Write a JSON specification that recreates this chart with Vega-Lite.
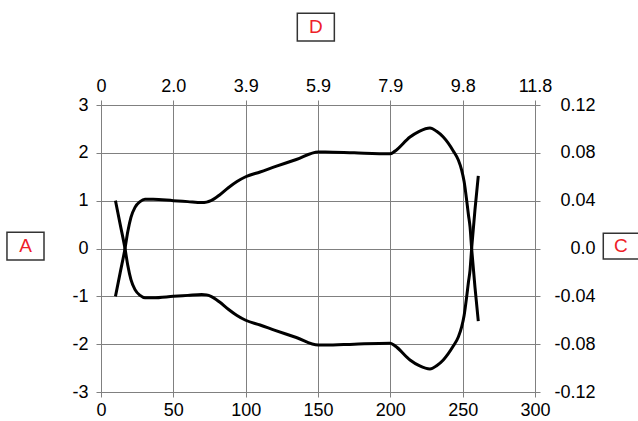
{
  "$schema": "https://vega.github.io/schema/vega-lite/v6.json",
  "width": 434,
  "height": 287,
  "autosize": {"type": "none"},
  "padding": {"left": 101, "top": 105, "right": 103, "bottom": 29},
  "background": "white",
  "config": {
    "font": "Liberation Sans",
    "view": {"stroke": null},
    "axis": {
      "gridColor": "#808080",
      "gridOpacity": 1,
      "gridWidth": 1,
      "domainColor": "#808080",
      "domainWidth": 1,
      "tickColor": "#808080",
      "tickSize": 5,
      "labelFontSize": 18,
      "labelColor": "black",
      "labelFont": "Liberation Sans",
      "labelFlush": false,
      "labelOverlap": false,
      "title": null
    }
  },
  "data": {
    "values": [
      {"arc": "u", "x": 10, "y": -1},
      {"arc": "u", "x": 13.3, "y": -0.5},
      {"arc": "u", "x": 16.6, "y": 0},
      {"arc": "u", "x": 18.5, "y": 0.35},
      {"arc": "u", "x": 20.7, "y": 0.65},
      {"arc": "u", "x": 23.5, "y": 0.86},
      {"arc": "u", "x": 27, "y": 0.98},
      {"arc": "u", "x": 30.4, "y": 1.03},
      {"arc": "u", "x": 36, "y": 1.03},
      {"arc": "u", "x": 50, "y": 1.0},
      {"arc": "u", "x": 60, "y": 0.98},
      {"arc": "u", "x": 69.6, "y": 0.96},
      {"arc": "u", "x": 73, "y": 0.97},
      {"arc": "u", "x": 76, "y": 1.0},
      {"arc": "u", "x": 82, "y": 1.12},
      {"arc": "u", "x": 88, "y": 1.27},
      {"arc": "u", "x": 94, "y": 1.4},
      {"arc": "u", "x": 100, "y": 1.5},
      {"arc": "u", "x": 110, "y": 1.6},
      {"arc": "u", "x": 120.3, "y": 1.71},
      {"arc": "u", "x": 135, "y": 1.86},
      {"arc": "u", "x": 150.2, "y": 2.02},
      {"arc": "u", "x": 155, "y": 2.02},
      {"arc": "u", "x": 175, "y": 2.0},
      {"arc": "u", "x": 199.8, "y": 1.98},
      {"arc": "u", "x": 203, "y": 2.03},
      {"arc": "u", "x": 213.6, "y": 2.33},
      {"arc": "u", "x": 220, "y": 2.45},
      {"arc": "u", "x": 227.4, "y": 2.52},
      {"arc": "u", "x": 232, "y": 2.45},
      {"arc": "u", "x": 236.6, "y": 2.33},
      {"arc": "u", "x": 243.5, "y": 2.04},
      {"arc": "u", "x": 247, "y": 1.85},
      {"arc": "u", "x": 249.3, "y": 1.64},
      {"arc": "u", "x": 251, "y": 1.4},
      {"arc": "u", "x": 252.8, "y": 1.0},
      {"arc": "u", "x": 254, "y": 0.7},
      {"arc": "u", "x": 255.1, "y": 0.45},
      {"arc": "u", "x": 256.2, "y": 0},
      {"arc": "u", "x": 258.5, "y": -0.81},
      {"arc": "u", "x": 260.8, "y": -1.52},
      {"arc": "l", "x": 10, "y": 1},
      {"arc": "l", "x": 13.3, "y": 0.5},
      {"arc": "l", "x": 16.6, "y": 0},
      {"arc": "l", "x": 18.5, "y": -0.35},
      {"arc": "l", "x": 20.7, "y": -0.65},
      {"arc": "l", "x": 23.5, "y": -0.86},
      {"arc": "l", "x": 27, "y": -0.98},
      {"arc": "l", "x": 30.4, "y": -1.03},
      {"arc": "l", "x": 36, "y": -1.03},
      {"arc": "l", "x": 50, "y": -1.0},
      {"arc": "l", "x": 60, "y": -0.98},
      {"arc": "l", "x": 69.6, "y": -0.96},
      {"arc": "l", "x": 73, "y": -0.97},
      {"arc": "l", "x": 76, "y": -1.0},
      {"arc": "l", "x": 82, "y": -1.12},
      {"arc": "l", "x": 88, "y": -1.27},
      {"arc": "l", "x": 94, "y": -1.4},
      {"arc": "l", "x": 100, "y": -1.5},
      {"arc": "l", "x": 110, "y": -1.6},
      {"arc": "l", "x": 120.3, "y": -1.71},
      {"arc": "l", "x": 135, "y": -1.86},
      {"arc": "l", "x": 150.2, "y": -2.02},
      {"arc": "l", "x": 155, "y": -2.02},
      {"arc": "l", "x": 175, "y": -2.0},
      {"arc": "l", "x": 199.8, "y": -1.98},
      {"arc": "l", "x": 203, "y": -2.03},
      {"arc": "l", "x": 213.6, "y": -2.33},
      {"arc": "l", "x": 220, "y": -2.45},
      {"arc": "l", "x": 227.4, "y": -2.52},
      {"arc": "l", "x": 232, "y": -2.45},
      {"arc": "l", "x": 236.6, "y": -2.33},
      {"arc": "l", "x": 243.5, "y": -2.04},
      {"arc": "l", "x": 247, "y": -1.85},
      {"arc": "l", "x": 249.3, "y": -1.64},
      {"arc": "l", "x": 251, "y": -1.4},
      {"arc": "l", "x": 252.8, "y": -1.0},
      {"arc": "l", "x": 254, "y": -0.7},
      {"arc": "l", "x": 255.1, "y": -0.45},
      {"arc": "l", "x": 256.2, "y": 0},
      {"arc": "l", "x": 258.5, "y": 0.81},
      {"arc": "l", "x": 260.8, "y": 1.52}
    ]
  },
  "layer": [
    {
      "mark": {"type": "line", "interpolate": "monotone", "color": "black", "strokeWidth": 3},
      "encoding": {
        "x": {"field": "x", "type": "quantitative", "scale": {"domain": [0, 300], "nice": false, "zero": false},
              "axis": {"orient": "bottom", "values": [0, 50, 100, 150, 200, 250, 300], "grid": true, "labelPadding": 4,
                       "labelExpr": "format(datum.value, 'd')"}},
        "y": {"field": "y", "type": "quantitative", "scale": {"domain": [-3, 3], "nice": false, "zero": false},
              "axis": {"orient": "left", "values": [-3, -2, -1, 0, 1, 2, 3], "grid": true, "labelPadding": 8,
                       "labelExpr": "datum.value < 0 ? '-' + format(-datum.value, 'd') : format(datum.value, 'd')"}},
        "detail": {"field": "arc"}
      }
    },
    {
      "mark": {"type": "line", "opacity": 0},
      "encoding": {
        "x": {"field": "x", "type": "quantitative", "scale": {"domain": [0, 300], "nice": false, "zero": false},
              "axis": {"orient": "top", "values": [0, 50, 100, 150, 200, 250, 300], "grid": false, "labelPadding": 5,
                       "labelExpr": "datum.value == 0 ? '0' : format(datum.value * 11.8 / 300, '.1f')"}},
        "y": {"field": "y", "type": "quantitative", "scale": {"domain": [-3, 3], "nice": false, "zero": false},
              "axis": {"orient": "right", "values": [-3, -2, -1, 0, 1, 2, 3], "grid": false, "labelAlign": "right", "labelPadding": 55,
                       "labelExpr": "datum.value == 0 ? '0.0' : (datum.value < 0 ? '-' + format(-datum.value * 0.04, '.2f') : format(datum.value * 0.04, '.2f'))"}},
        "detail": {"field": "arc"}
      }
    },
    {
      "data": {"values": [{"label": "A", "bx": -65, "bx2": -39.4, "by": 0.339, "by2": -0.24, "tx": -52.2, "ty": 0.05},
                          {"label": "C", "bx": 347.2, "bx2": 376, "by": 0.318, "by2": -0.22, "tx": 359.3, "ty": 0.05},
                          {"label": "D", "bx": 135.7, "bx2": 161.3, "by": 4.917, "by2": 4.338, "tx": 148.6, "ty": 4.63}]},
      "layer": [
        {
          "mark": {"type": "rect", "fillOpacity": 0, "stroke": "#333333", "strokeWidth": 1.5},
          "encoding": {
            "x": {"field": "bx", "type": "quantitative", "scale": {"domain": [0, 300], "nice": false, "zero": false}, "axis": null},
            "x2": {"field": "bx2"},
            "y": {"field": "by", "type": "quantitative", "scale": {"domain": [-3, 3], "nice": false, "zero": false}, "axis": null},
            "y2": {"field": "by2"}
          }
        },
        {
          "mark": {"type": "text", "color": "#ee2028", "fontSize": 19, "align": "center", "baseline": "middle", "font": "Liberation Sans"},
          "encoding": {
            "x": {"field": "tx", "type": "quantitative", "scale": {"domain": [0, 300], "nice": false, "zero": false}, "axis": null},
            "y": {"field": "ty", "type": "quantitative", "scale": {"domain": [-3, 3], "nice": false, "zero": false}, "axis": null},
            "text": {"field": "label"}
          }
        }
      ]
    }
  ],
  "resolve": {"axis": {"x": "independent", "y": "independent"}}
}
